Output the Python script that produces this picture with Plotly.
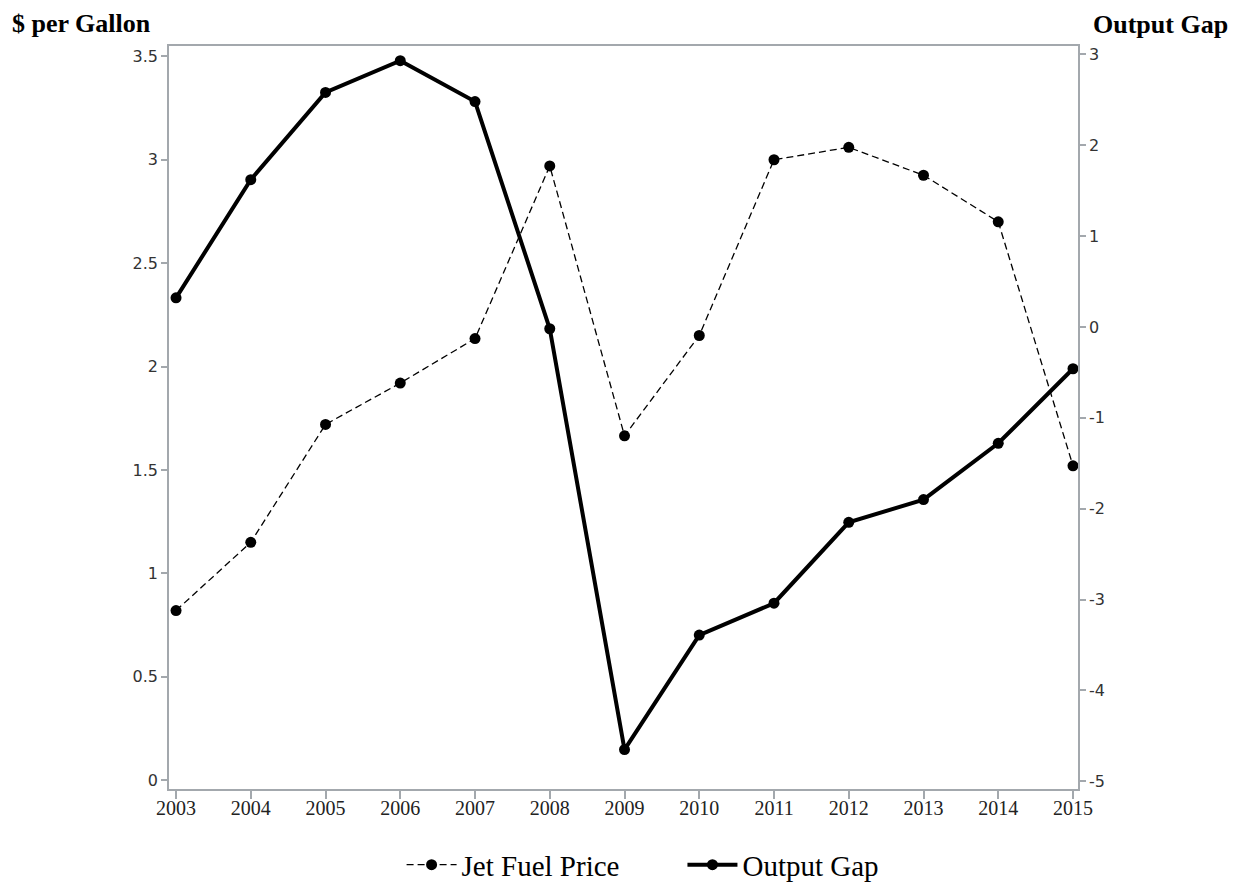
import plotly.graph_objects as go

years = [2003, 2004, 2005, 2006, 2007, 2008, 2009, 2010, 2011, 2012, 2013, 2014, 2015]
jet_fuel_price = [0.82, 1.15, 1.72, 1.92, 2.135, 2.97, 1.665, 2.15, 3.00, 3.06, 2.925, 2.70, 1.52]
output_gap = [0.32, 1.62, 2.58, 2.93, 2.48, -0.02, -4.65, -3.39, -3.04, -2.15, -1.90, -1.28, -0.46]

left_ticks = [0, 0.5, 1, 1.5, 2, 2.5, 3, 3.5]
left_labels = ["0", "0.5", "1", "1.5", "2", "2.5", "3", "3.5"]
right_ticks = [-5, -4, -3, -2, -1, 0, 1, 2, 3]
right_labels = ["-5", "-4", "-3", "-2", "-1", "0", "1", "2", "3"]

axis_color = "#a3a8ad"
tick_font = dict(family="DejaVu Sans", size=16, color="#333333")
gap = "\u00a0" * 8

fig = go.Figure()
fig.add_trace(go.Scatter(
    x=years, y=jet_fuel_price, name="Jet Fuel Price" + gap, mode="lines+markers",
    line=dict(color="black", width=1.3, dash="7px,4px"),
    marker=dict(color="black", size=11, symbol="circle"),
    yaxis="y",
))
fig.add_trace(go.Scatter(
    x=years, y=output_gap, name="Output Gap", mode="lines+markers",
    line=dict(color="black", width=4),
    marker=dict(color="black", size=11, symbol="circle"),
    yaxis="y2",
))

fig.update_layout(
    width=1252, height=886,
    margin=dict(l=161, r=182, t=38, b=105, autoexpand=False),
    paper_bgcolor="white", plot_bgcolor="white",
    showlegend=True,
    legend=dict(orientation="h", x=0.521, xanchor="center", y=-0.102, yanchor="middle",
                font=dict(family="Liberation Serif", size=29, color="black"),
                itemwidth=50, tracegroupgap=0),
    xaxis=dict(range=[2002.906, 2015.067], tickmode="array", tickvals=years,
               ticktext=[str(y) for y in years],
               showline=True, linecolor=axis_color, linewidth=1.5, mirror=True,
               ticks="outside", ticklen=8, tickcolor=axis_color, tickwidth=1.5,
               ticklabelstandoff=-8,
               showgrid=False, zeroline=False,
               tickfont=dict(family="Liberation Serif", size=20, color="#222222")),
    yaxis=dict(range=[-0.043, 3.550], tickmode="array", tickvals=left_ticks, ticktext=left_labels,
               showline=True, linecolor=axis_color, linewidth=1.5,
               ticks="outside", ticklen=6, tickcolor=axis_color, tickwidth=1.5,
               showgrid=False, zeroline=False, tickfont=tick_font),
    yaxis2=dict(range=[-5.084, 3.091], overlaying="y", side="right",
                tickmode="array", tickvals=right_ticks, ticktext=right_labels,
                showline=True, linecolor=axis_color, linewidth=1.5,
                ticks="outside", ticklen=6, tickcolor=axis_color, tickwidth=1.5,
                showgrid=False, zeroline=False, tickfont=tick_font),
)

fig.add_annotation(text="<b>$ per Gallon</b>", xref="paper", yref="paper",
                   x=-0.175, y=1.0, xanchor="left", yanchor="middle", yshift=23,
                   showarrow=False, font=dict(family="Liberation Serif", size=26, color="black"))
fig.add_annotation(text="<b>Output Gap</b>", xref="paper", yref="paper",
                   x=1.0, y=1.0, xanchor="left", yanchor="middle", xshift=13, yshift=22,
                   showarrow=False, font=dict(family="Liberation Serif", size=26, color="black"))

fig.write_html("out.html")
